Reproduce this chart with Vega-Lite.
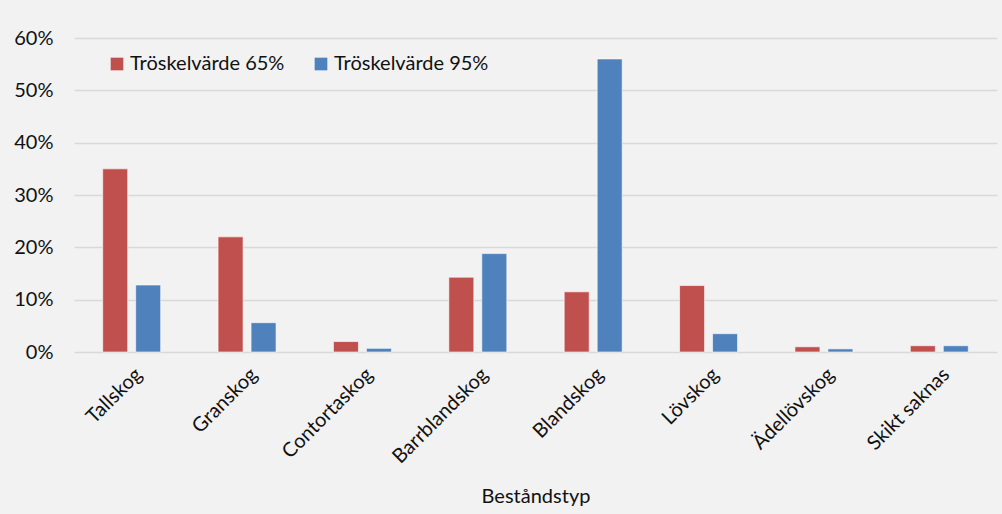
{
  "$schema": "https://vega.github.io/schema/vega-lite/v6.json",
  "autosize": "none",
  "width": 923,
  "height": 314,
  "padding": {"left": 74, "top": 38, "right": 5, "bottom": 162},
  "background": "#F2F2F2",
  "config": {"view": {"stroke": null}, "font": "Lato"},
  "data": {
    "values": [
      {"typ": "Tallskog", "serie": "Tröskelvärde 65%", "andel": 0.350},
      {"typ": "Tallskog", "serie": "Tröskelvärde 95%", "andel": 0.128},
      {"typ": "Granskog", "serie": "Tröskelvärde 65%", "andel": 0.220},
      {"typ": "Granskog", "serie": "Tröskelvärde 95%", "andel": 0.056},
      {"typ": "Contortaskog", "serie": "Tröskelvärde 65%", "andel": 0.020},
      {"typ": "Contortaskog", "serie": "Tröskelvärde 95%", "andel": 0.007},
      {"typ": "Barrblandskog", "serie": "Tröskelvärde 65%", "andel": 0.143},
      {"typ": "Barrblandskog", "serie": "Tröskelvärde 95%", "andel": 0.188},
      {"typ": "Blandskog", "serie": "Tröskelvärde 65%", "andel": 0.115},
      {"typ": "Blandskog", "serie": "Tröskelvärde 95%", "andel": 0.560},
      {"typ": "Lövskog", "serie": "Tröskelvärde 65%", "andel": 0.127},
      {"typ": "Lövskog", "serie": "Tröskelvärde 95%", "andel": 0.035},
      {"typ": "Ädellövskog", "serie": "Tröskelvärde 65%", "andel": 0.010},
      {"typ": "Ädellövskog", "serie": "Tröskelvärde 95%", "andel": 0.006},
      {"typ": "Skikt saknas", "serie": "Tröskelvärde 65%", "andel": 0.012},
      {"typ": "Skikt saknas", "serie": "Tröskelvärde 95%", "andel": 0.012}
    ]
  },
  "mark": {"type": "bar", "stroke": "#ffffff", "strokeOpacity": 0.6, "strokeWidth": 1},
  "encoding": {
    "x": {
      "field": "typ",
      "type": "nominal",
      "sort": null,
      "scale": {"paddingInner": 0, "paddingOuter": 0},
      "axis": {
        "title": "Beståndstyp",
        "labelAngle": -45,
        "labelFontSize": 20,
        "labelColor": "#111111",
        "labelPadding": 12,
        "titleFontSize": 20,
        "titleFontWeight": "normal",
        "titleColor": "#111111",
        "titleY": 150,
        "titleBaseline": "alphabetic",
        "ticks": false,
        "domain": false
      }
    },
    "xOffset": {
      "field": "serie",
      "sort": null,
      "scale": {"paddingInner": 0.242, "paddingOuter": 0.87}
    },
    "y": {
      "field": "andel",
      "type": "quantitative",
      "scale": {"domain": [0, 0.6]},
      "axis": {
        "title": null,
        "format": ".0%",
        "values": [0, 0.1, 0.2, 0.3, 0.4, 0.5, 0.6],
        "grid": true,
        "gridColor": "#D9D9D9",
        "gridWidth": 1.5,
        "domain": false,
        "ticks": false,
        "labelPadding": 21,
        "labelFontSize": 20,
        "labelColor": "#111111"
      }
    },
    "color": {
      "field": "serie",
      "type": "nominal",
      "scale": {"domain": ["Tröskelvärde 65%", "Tröskelvärde 95%"], "range": ["#C0504D", "#4F81BD"]},
      "legend": {
        "title": null,
        "orient": "none",
        "legendX": 33,
        "legendY": 16,
        "direction": "horizontal",
        "symbolType": "square",
        "symbolSize": 160,
        "symbolStrokeWidth": 0,
        "labelFontSize": 20,
        "labelColor": "#111111",
        "labelOffset": 3,
        "columnPadding": 26
      }
    }
  }
}
